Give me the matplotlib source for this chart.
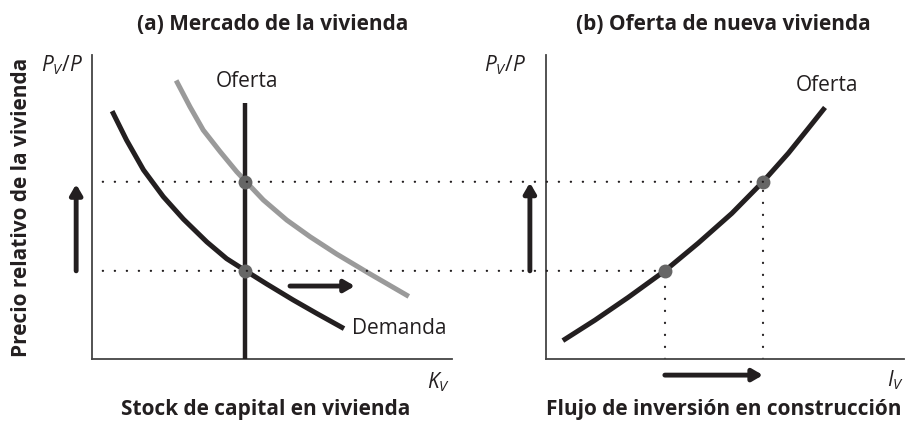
import numpy as np
import matplotlib
matplotlib.use('Agg')
import matplotlib.pyplot as plt
from matplotlib.patches import ConnectionPatch

plt.rcParams['font.family'] = ['Open Sans', 'DejaVu Sans']
plt.rcParams['mathtext.fontset'] = 'custom'
plt.rcParams['mathtext.it'] = 'Open Sans:italic'
plt.rcParams['mathtext.rm'] = 'Open Sans'

# (a) housing market: demand before / after, fixed stock
demand_x = [0.59, 0.96, 1.43, 1.98, 2.54, 3.19, 3.74, 4.27, 4.85, 5.59, 6.24, 6.94]
demand_y = [8.08, 7.20, 6.22, 5.34, 4.60, 3.85, 3.30, 2.90, 2.47, 1.94, 1.50, 1.04]
demand_new_x = [2.37, 2.72, 3.09, 3.56, 4.02, 4.28, 4.76, 5.41, 6.06, 6.80, 7.72, 8.74]
demand_new_y = [9.09, 8.30, 7.53, 6.82, 6.16, 5.83, 5.23, 4.57, 4.02, 3.45, 2.80, 2.10]
stock_k = 4.25
stock_top = 8.43

# (b) supply of new housing
supply_x = [0.53, 1.37, 2.30, 3.32, 4.25, 5.19, 6.06, 6.77, 7.33, 7.75]
supply_y = [0.65, 1.28, 2.03, 2.90, 3.81, 4.79, 5.83, 6.77, 7.59, 8.21]

p_low, p_high = 2.90, 5.83
i_low, i_high = 3.32, 6.06

black = '#231f20'
gray = '#9a9a9a'
dotgray = '#666666'
dotted = (0, (0.1, 5.3))
arrow = dict(arrowstyle='-|>,head_length=0.6,head_width=0.35', color=black, lw=3.5,
             shrinkA=0, shrinkB=0)

fig = plt.figure(figsize=(9.05, 4.22), dpi=100)
ax1 = fig.add_axes([92 / 905, 63 / 422, 360 / 905, 304 / 422])
ax2 = fig.add_axes([546 / 905, 63 / 422, 358 / 905, 304 / 422])

for ax in (ax1, ax2):
    ax.set_xlim(0, 10)
    ax.set_ylim(0, 10)
    ax.set_xticks([])
    ax.set_yticks([])
    for s in ('top', 'right'):
        ax.spines[s].set_visible(False)
    for s in ('left', 'bottom'):
        ax.spines[s].set_color('#444444')
        ax.spines[s].set_linewidth(1.3)
    ax.patch.set_alpha(0)

# panel a
ax1.plot([stock_k, stock_k], [0, stock_top], color=black, lw=3.2, solid_capstyle='butt', zorder=3)
ax1.plot(demand_new_x, demand_new_y, color=gray, lw=3.6, solid_joinstyle='round', zorder=2)
ax1.plot(demand_x, demand_y, color=black, lw=3.6, solid_joinstyle='round', zorder=3)
ax1.plot([stock_k, stock_k], [p_low, p_high], 'o', color=dotgray, ms=10, mec='none', zorder=4)

# dotted price lines crossing into panel b
for p, i in ((p_low, i_low), (p_high, i_high)):
    con = ConnectionPatch(xyA=(0.3, p), coordsA=ax1.transData,
                          xyB=(i, p), coordsB=ax2.transData,
                          color=black, lw=1.6, linestyle=dotted, capstyle='round')
    fig.add_artist(con)

ax1.annotate('', xy=(-0.44, 5.75), xytext=(-0.44, p_low), annotation_clip=False, arrowprops=arrow)
ax1.annotate('', xy=(7.3, 2.4), xytext=(5.5, 2.4), annotation_clip=False, arrowprops=arrow)

ax1.text(stock_k + 0.05, 9.14, 'Oferta', ha='center', va='center', fontsize=15, color=black)
ax1.text(7.22, 0.99, 'Demanda', ha='left', va='center', fontsize=15, color=black)
ax1.text(-0.25, 9.67, r'$P_V/P$', ha='right', va='center', fontsize=15, color=black)
ax1.text(9.94, -0.76, r'$K_V$', ha='right', va='center', fontsize=15, color=black)

# panel b
ax2.plot(supply_x, supply_y, color=black, lw=3.6, solid_joinstyle='round', zorder=3)
for i, p in ((i_low, p_low), (i_high, p_high)):
    ax2.plot([i, i], [0, p], color=black, lw=1.6, linestyle=dotted, dash_capstyle='round', zorder=2)
ax2.plot([i_low, i_high], [p_low, p_high], 'o', color=dotgray, ms=10, mec='none', zorder=4)

ax2.annotate('', xy=(-0.45, 5.8), xytext=(-0.45, p_low), annotation_clip=False, arrowprops=arrow)
ax2.annotate('', xy=(i_high, -0.53), xytext=(i_low, -0.53), annotation_clip=False, arrowprops=arrow)

ax2.text(7.85, 9.01, 'Oferta', ha='center', va='center', fontsize=15, color=black)
ax2.text(-0.56, 9.67, r'$P_V/P$', ha='right', va='center', fontsize=15, color=black)
ax2.text(10.0, -0.69, r'$I_V$', ha='right', va='center', fontsize=15, color=black)

# titles and axis names
bold = dict(fontsize=15, fontweight='bold', color=black, ha='center', va='center')
fig.text(273 / 905, 1 - 24 / 422, '(a) Mercado de la vivienda', **bold)
fig.text(723 / 905, 1 - 24 / 422, '(b) Oferta de nueva vivienda', **bold)
fig.text(266 / 905, 1 - 409 / 422, 'Stock de capital en vivienda', **bold)
fig.text(724 / 905, 1 - 409 / 422, 'Flujo de inversión en construcción', **bold)
fig.text(22 / 905, 1 - 207 / 422, 'Precio relativo de la vivienda', rotation=90, **bold)

fig.savefig('out.png', dpi=100)
